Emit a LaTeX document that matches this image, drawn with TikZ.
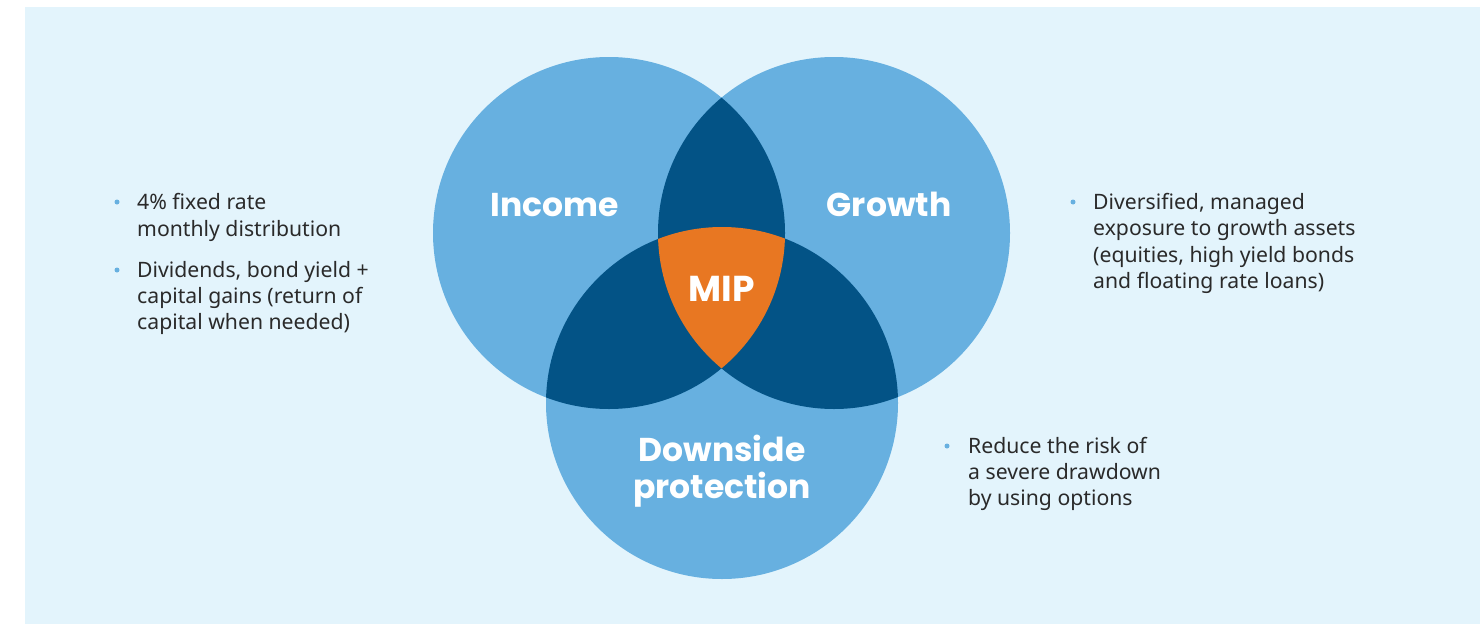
\documentclass[tikz,border=0pt]{standalone}
\usepackage{fontspec}
\setmainfont{Noto Sans}
\newfontfamily\titlefont{Poppins}
\definecolor{bgblue}{HTML}{E3F4FC}
\definecolor{ltblue}{HTML}{67B0E0}
\definecolor{dkblue}{HTML}{035386}
\definecolor{miporange}{HTML}{E87722}
\definecolor{bodytext}{HTML}{2A2A2A}
\tikzset{
  title/.style={text=white, font=\titlefont\bfseries\fontsize{33}{37}\selectfont, inner sep=0pt, anchor=base},
  body/.style={text=bodytext, font=\fontsize{21.2}{26}\selectfont, inner sep=0pt, anchor=base west},
  bulletdot/.style={circle, fill=ltblue, inner sep=0pt, minimum size=5pt},
}
\begin{document}
\begin{tikzpicture}[x=1pt,y=-1pt]
\useasboundingbox (0,0) rectangle (1480,624);
\fill[bgblue] (25,7) rectangle (1480,624);
\coordinate (ci) at (609,233);
\coordinate (cg) at (834,233);
\coordinate (cd) at (722,403);
\def\R{176}
\fill[ltblue] (ci) circle[radius=\R];
\fill[ltblue] (cg) circle[radius=\R];
\fill[ltblue] (cd) circle[radius=\R];
\begin{scope}
  \clip (ci) circle[radius=\R];
  \fill[dkblue] (cg) circle[radius=\R];
  \fill[dkblue] (cd) circle[radius=\R];
\end{scope}
\begin{scope}
  \clip (cg) circle[radius=\R];
  \fill[dkblue] (cd) circle[radius=\R];
\end{scope}
\begin{scope}
  \clip (ci) circle[radius=\R];
  \clip (cg) circle[radius=\R];
  \fill[miporange] (cd) circle[radius=\R];
\end{scope}
% titles
\node[title] (income) at (555,216) {Income};
\node[title] (growth) at (889,216) {Growth};
\node[title, font=\titlefont\bfseries\fontsize{36}{40}\selectfont] (mip) at (722,301) {MIP};
\node[title] (down1) at (722,461) {Downside};
\node[title] (down2) at (722,498) {protection};
% left text
\node[bulletdot] (b1) at (117,202) {};
\node[body] (l1) at (137,209) {4\% fixed rate};
\node[body] (l2) at (137,236) {monthly distribution};
\node[bulletdot] (b2) at (117,270) {};
\node[body] (l3) at (137,277) {Dividends, bond yield +};
\node[body] (l4) at (137,303) {capital gains (return of};
\node[body] (l5) at (137,329) {capital when needed)};
% right text
\node[bulletdot] (b3) at (1073,202) {};
\node[body] (r1) at (1093,209) {Diversified, managed};
\node[body] (r2) at (1093,235) {exposure to growth assets};
\node[body] (r3) at (1093,262) {(equities, high yield bonds};
\node[body] (r4) at (1093,288) {and floating rate loans)};
% bottom right text
\node[bulletdot] (b4) at (947,446) {};
\node[body] (d1) at (968,453) {Reduce the risk of};
\node[body] (d2) at (968,479) {a severe drawdown};
\node[body] (d3) at (968,505) {by using options};
\end{tikzpicture}
\end{document}
